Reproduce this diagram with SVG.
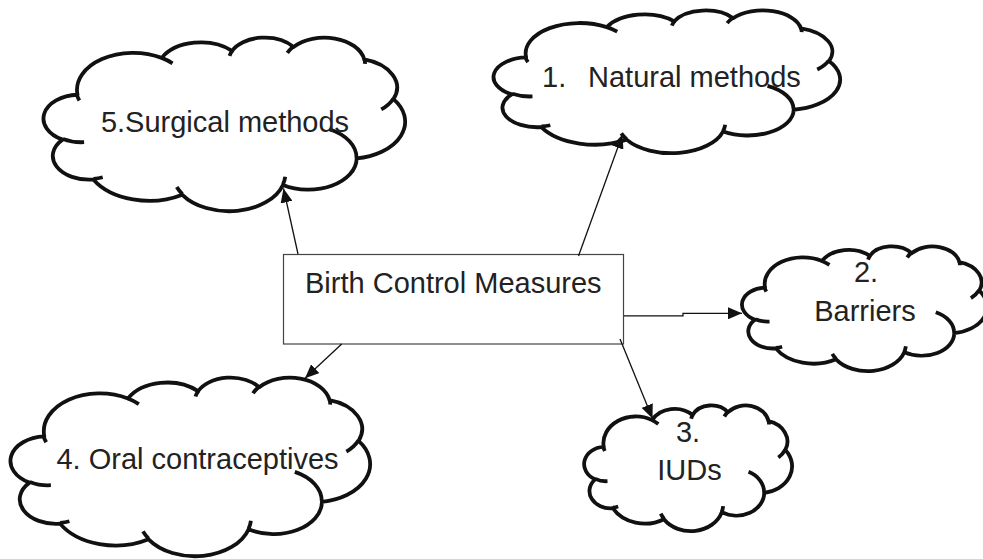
<svg xmlns="http://www.w3.org/2000/svg" xmlns:xlink="http://www.w3.org/1999/xlink" width="983" height="559" viewBox="0 0 983 559">
<style>
  .cloud { fill: #ffffff; stroke: #111111; stroke-width: 3.8; stroke-linejoin: round; }
  .hook { fill: none; stroke: #111111; stroke-width: 3.8; stroke-linecap: butt; }
  .box { fill: #ffffff; stroke: #444444; stroke-width: 1.2; }
  .lbl { font-family: "Liberation Sans", Arial, Helvetica, sans-serif; font-size: 29px; fill: #222222; }
  .mid { text-anchor: middle; }
  .conn { fill: none; stroke: #111111; stroke-width: 1.3; }
</style>
<defs>
  <marker id="arrow" markerUnits="userSpaceOnUse" markerWidth="15" markerHeight="12" refX="14" refY="6" orient="auto">
    <path d="M0,0 L14,6 L0,12 Z" fill="#111111"/>
  </marker>
  <path id="cloudOuter" vector-effect="non-scaling-stroke" d="M3900,14370 A6753,9190 0 0 1 14002,5200 A5333,7267 0 0 1 22453,3430 A4365,5945 0 0 1 29830,2479 A4857,6595 0 0 1 38315,5574 A5333,7273 0 0 1 41815,15458 A6775,9220 0 0 1 37401,30201 A5785,7867 0 0 1 28553,36811 A6752,9215 0 0 1 16478,39262 A7720,10543 0 0 1 5802,35468 A4360,5918 0 0 1 2111,25546 A4345,5945 0 0 1 3900,14370 Z"/>
  <path id="cloudHooks" vector-effect="non-scaling-stroke" d="M4693,26177 A4345,5945 0 0 1 2160,25380 M6928,34899 A4360,5918 0 0 1 5820,35280 M16478,39090 A6752,9215 0 0 1 15810,37350 M28827,34751 A6752,9215 0 0 1 28560,36660 M34129,22954 A5785,7867 0 0 1 37381,30090 M41798,15354 A5333,7273 0 0 1 40350,18030 M38324,5426 A4857,6595 0 0 1 38401,6690 M29078,3952 A4857,6595 0 0 1 29820,2340 M22141,4720 A4365,5945 0 0 1 22500,3329 M14000,5192 A6753,9190 0 0 1 15303,6543 M4127,15789 A6753,9190 0 0 1 3784,14192"/>
</defs>
<rect width="983" height="559" fill="#ffffff"/>

<g id="node-surgical">
  <g transform="translate(45,37) scale(0.0083333,0.0040185)">
    <use xlink:href="#cloudOuter" class="cloud"/>
    <use xlink:href="#cloudHooks" class="hook"/>
  </g>
  <text class="lbl mid" x="225" y="131.5">5.Surgical methods</text>
</g>

<g id="node-natural">
  <g transform="translate(495,10) scale(0.0079861,0.0033025)">
    <use xlink:href="#cloudOuter" class="cloud"/>
    <use xlink:href="#cloudHooks" class="hook"/>
  </g>
  <text class="lbl" y="87.3"><tspan x="542">1.</tspan><tspan x="588">Natural methods</tspan></text>
</g>

<g id="node-barriers">
  <g transform="translate(743,246) scale(0.0056481,0.0028868)">
    <use xlink:href="#cloudOuter" class="cloud"/>
    <use xlink:href="#cloudHooks" class="hook"/>
  </g>
  <text class="lbl mid" x="866" y="282.3">2.</text>
  <text class="lbl mid" x="865" y="320.7">Barriers</text>
</g>

<g id="node-oral">
  <g transform="translate(12,377) scale(0.0082870,0.0041339)">
    <use xlink:href="#cloudOuter" class="cloud"/>
    <use xlink:href="#cloudHooks" class="hook"/>
  </g>
  <text class="lbl mid" x="197.5" y="469.3">4. Oral contraceptives</text>
</g>

<g id="node-iuds">
  <g transform="translate(585,405) scale(0.0047917,0.0029099)">
    <use xlink:href="#cloudOuter" class="cloud"/>
    <use xlink:href="#cloudHooks" class="hook"/>
  </g>
  <text class="lbl mid" x="688" y="441.7">3.</text>
  <text class="lbl mid" x="689.5" y="480">IUDs</text>
</g>

<g id="node-center">
  <rect class="box" x="283.5" y="254.5" width="340" height="89.5"/>
  <text class="lbl mid" x="453.3" y="293.3">Birth Control Measures</text>
</g>

<g id="connectors">
  <path class="conn" marker-end="url(#arrow)" d="M298,254 L283.5,188.5"/>
  <path class="conn" marker-end="url(#arrow)" d="M578.5,256 L622.5,134.5"/>
  <path class="conn" marker-end="url(#arrow)" d="M624,315.8 H683 V313.3 H742"/>
  <path class="conn" marker-end="url(#arrow)" d="M341.7,344 L305,378.3"/>
  <path class="conn" marker-end="url(#arrow)" d="M620,339 L652.5,418.5"/>
</g>
</svg>
